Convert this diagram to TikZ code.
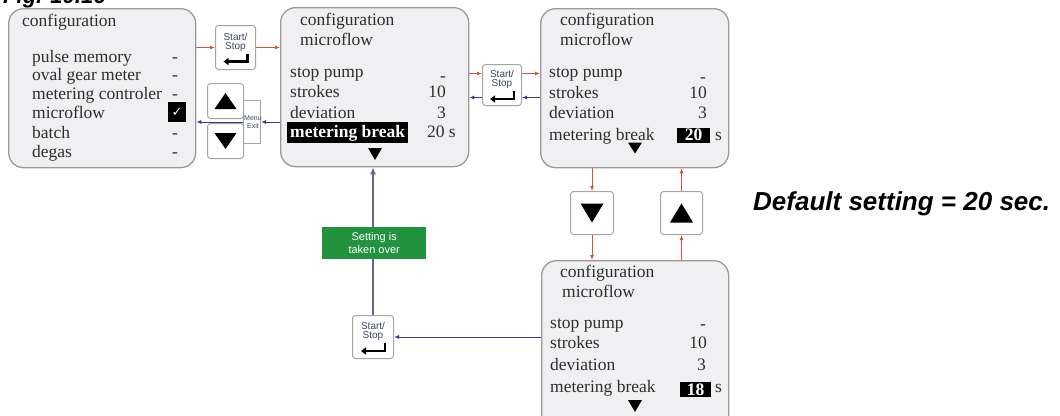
\documentclass[tikz,border=0pt]{standalone}
\usepackage{fontspec}
\setmainfont{Liberation Serif}
\newfontfamily\sansf{Liberation Sans}
\newfontfamily\symf{DejaVu Sans}
\usetikzlibrary{arrows.meta,calc,backgrounds}

\definecolor{scrfill}{HTML}{F0F0F2}
\definecolor{scrdraw}{HTML}{9A9A9A}
\definecolor{btndraw}{HTML}{A5A5A5}
\definecolor{arrred}{HTML}{D4543A}
\definecolor{arrblue}{HTML}{3C3C88}
\definecolor{arrpurp}{HTML}{6E6290}
\definecolor{txtcol}{HTML}{2E2E2E}
\definecolor{greenbox}{HTML}{22923F}
\definecolor{sstext}{HTML}{3A4660}

\tikzset{
 screen/.style={draw=scrdraw, fill=scrfill, line width=1.3pt, rounded corners=15pt, anchor=north west, inner sep=0pt},
 btn/.style={draw=btndraw, fill=white, line width=1pt, rounded corners=3pt, anchor=north west, inner sep=0pt},
 lbl/.style={anchor=base west, inner sep=0pt, text=txtcol, font=\fontsize{17.5}{20}\selectfont},
 val/.style={anchor=base east, inner sep=0pt, text=txtcol, font=\fontsize{17.5}{20}\selectfont},
 dsh/.style={anchor=base, inner sep=0pt, text=txtcol, font=\fontsize{17.5}{20}\selectfont},
 inv/.style={fill=black, text=white, inner sep=0pt, font=\fontsize{17.5}{20}\selectfont\bfseries},
 sslbl/.style={inner sep=0pt, text=sstext, font=\sansf\fontsize{10}{11}\selectfont},
 redarr/.style={draw=arrred, line width=0.9pt, -{Latex[length=5pt,width=4pt]}},
 bluearr/.style={draw=arrblue, line width=0.9pt, -{Latex[length=5pt,width=4pt]}},
 enterarr/.style={line width=2.6pt, -{Triangle[length=5pt,width=7pt]}},
}

\newcommand{\myss}[1]{%
 \node[sslbl] (#1a) at ($(#1.center)+(0,-11)$) {Start/};
 \node[sslbl] (#1b) at ($(#1.center)+(0,-0.5)$) {Stop};
 \draw[enterarr] ($(#1.center)+(12,6)$) -- ($(#1.center)+(12,14)$) -- ($(#1.center)+(-12,14)$);
}
% up triangle: #1 node, #2 half width, #3 half height
\newcommand{\myuptri}[3]{\fill[black] ($(#1)+(-#2,#3)$) -- ($(#1)+(#2,#3)$) -- ($(#1)+(0,-#3)$) -- cycle;}
\newcommand{\mydntri}[3]{\fill[black] ($(#1)+(-#2,-#3)$) -- ($(#1)+(#2,-#3)$) -- ($(#1)+(0,#3)$) -- cycle;}

\begin{document}
\begin{tikzpicture}[x=1pt, y=-1pt]
\useasboundingbox (0,0) rectangle (1060,415);

% screens
\node[screen, minimum width=187pt, minimum height=159pt] (s1) at (8,8) {};
\node[screen, minimum width=188pt, minimum height=159pt] (s2) at (280,7) {};
\node[screen, minimum width=188pt, minimum height=159pt] (s3) at (540,8) {};
\node[screen, minimum width=187pt, minimum height=180pt] (s4) at (541,260) {};

% buttons
\node[btn, minimum width=40pt, minimum height=44pt] (ss1) at (215,25) {};
\node[btn, rounded corners=0pt, minimum width=17pt, minimum height=43pt] (menu) at (243,100) {};
\node[btn, minimum width=36pt, minimum height=35pt] (up1) at (207,83) {};
\node[btn, minimum width=36pt, minimum height=35pt] (dn1) at (207,123) {};
\node[btn, minimum width=39pt, minimum height=41pt] (ss2) at (482,64) {};
\node[btn, minimum width=43pt, minimum height=43pt] (dn2) at (570,191) {};
\node[btn, minimum width=42pt, minimum height=43pt] (up2) at (660,191) {};
\node[btn, minimum width=41pt, minimum height=43pt] (ss3) at (352,315) {};
\node[fill=greenbox, minimum width=104pt, minimum height=32pt, anchor=north west, inner sep=0pt,
      text=white, align=center, font=\sansf\fontsize{11}{12.5}\selectfont] (green) at (322,227) {Setting is\\taken over};

\node[font=\sansf\fontsize{7}{8}\selectfont, align=center, text=sstext, inner sep=0pt] (menut) at ($(menu.center)+(1,0)$) {Menu\\Exit};

\myss{ss1}
\myss{ss2}
\myss{ss3}

\myuptri{up1.center}{11}{8}
\mydntri{dn1.center}{11}{8}
\mydntri{dn2.center}{11.5}{9.5}
\myuptri{up2.center}{11.5}{9.5}

% connectors
\coordinate (ss2r) at ([yshift=11.5pt]ss2.center);
\coordinate (ss2b) at ([yshift=-12.5pt]ss2.center);
\begin{scope}[on background layer]
\draw[redarr] (s1.east |- ss1.west) -- (ss1.west);
\draw[redarr] (ss1.east) -- (s2.west |- ss1.east);
\draw[bluearr] (s2.west |- menu.east) -- (menu.east);
\draw[bluearr] (menu.west) -- (s1.east |- menu.west);
\draw[redarr] (s2.east |- ss2r) -- (ss2.west |- ss2r);
\draw[redarr] (ss2.east |- ss2r) -- (s3.west |- ss2r);
\draw[bluearr] (s3.west |- ss2b) -- (ss2.east |- ss2b);
\draw[bluearr] (ss2.west |- ss2b) -- (s2.east |- ss2b);
\draw[redarr] (s3.south -| dn2.north) -- (dn2.north);
\draw[redarr] (dn2.south) -- (s4.north -| dn2.south);
\draw[redarr] (s4.north -| up2.south) -- (up2.south);
\draw[redarr] (up2.north) -- (s3.south -| up2.north);
\draw[bluearr] (s4.west |- ss3.east) -- (ss3.east);
\draw[draw=arrpurp, line width=2pt, -{Latex[length=7pt,width=6pt,fill=arrblue]}] (ss3.north) -- (s2.south -| ss3.north);
\end{scope}

% screen 1
\node[lbl] (a0) at (22,27) {configuration};
\node[lbl] (a1) at (32,62) {pulse memory};
\node[lbl] (a2) at (32,80) {oval gear meter};
\node[lbl] (a3) at (32,99) {metering controler};
\node[lbl] (a4) at (32,118) {microflow};
\node[lbl] (a5) at (32,138) {batch};
\node[lbl] (a6) at (32,157) {degas};
\node[dsh] (ad1) at (175,62) {-};
\node[dsh] (ad2) at (175,80) {-};
\node[dsh] (ad3) at (175,99) {-};
\node[dsh] (ad5) at (175,138) {-};
\node[dsh] (ad6) at (175,157) {-};
\node[fill=black, text=white, minimum width=18pt, minimum height=20pt, inner sep=0pt,
      font=\symf\fontsize{13}{13}\selectfont] (chk) at (177,112) {✓};

% screen 2
\node[lbl] (b0) at (300,25) {configuration};
\node[lbl] (b1) at (300,45) {microflow};
\node[lbl] (b2) at (290,77) {stop pump};
\node[lbl] (b3) at (290,97) {strokes};
\node[lbl] (b4) at (290,118) {deviation};
\node[inv, anchor=base west, inner xsep=3pt, inner ysep=2.5pt] (b5) at (287,137) {metering break};
\node[dsh] (bd1) at (443,81) {-};
\node[val] (bv2) at (446,97) {10};
\node[val] (bv3) at (446,118) {3};
\node[val] (bv4) at (456,137) {20 s};
\mydntri{375,154}{7}{6}

% screen 3
\node[lbl] (c0) at (560,25) {configuration};
\node[lbl] (c1) at (560,45) {microflow};
\node[lbl] (c2) at (549,77) {stop pump};
\node[lbl] (c3) at (549,98) {strokes};
\node[lbl] (c4) at (549,118) {deviation};
\node[lbl] (c5) at (549,140) {metering break};
\node[dsh] (cd1) at (703,82) {-};
\node[val] (cv2) at (707,98) {10};
\node[val] (cv3) at (707,118) {3};
\node[inv, minimum width=33pt, minimum height=15pt] (cv4) at (693.5,135) {20};
\node[lbl] (cs) at (715,140) {s};
\mydntri{635,148}{7}{5.5}

% screen 4
\node[lbl] (e0) at (560,277) {configuration};
\node[lbl] (e1) at (562,297) {microflow};
\node[lbl] (e2) at (550,328) {stop pump};
\node[lbl] (e3) at (550,348) {strokes};
\node[lbl] (e4) at (550,370) {deviation};
\node[lbl] (e5) at (550,392) {metering break};
\node[dsh] (ed1) at (703,329) {-};
\node[val] (ev2) at (707,348) {10};
\node[val] (ev3) at (706,370) {3};
\node[inv, minimum width=31pt, minimum height=15pt] (ev4) at (695.5,389.5) {18};
\node[lbl] (es) at (715,392) {s};
\mydntri{635,406}{7}{6}

% captions
\node[anchor=base west, inner sep=0pt, font=\sansf\bfseries\itshape\fontsize{22}{22}\selectfont] (fig) at (3,4) {Fig. 10.16};
\node[anchor=base west, inner sep=0pt, font=\sansf\bfseries\itshape\fontsize{26}{26}\selectfont] (def) at (753,210) {Default setting = 20 sec.};
\end{tikzpicture}
\end{document}
